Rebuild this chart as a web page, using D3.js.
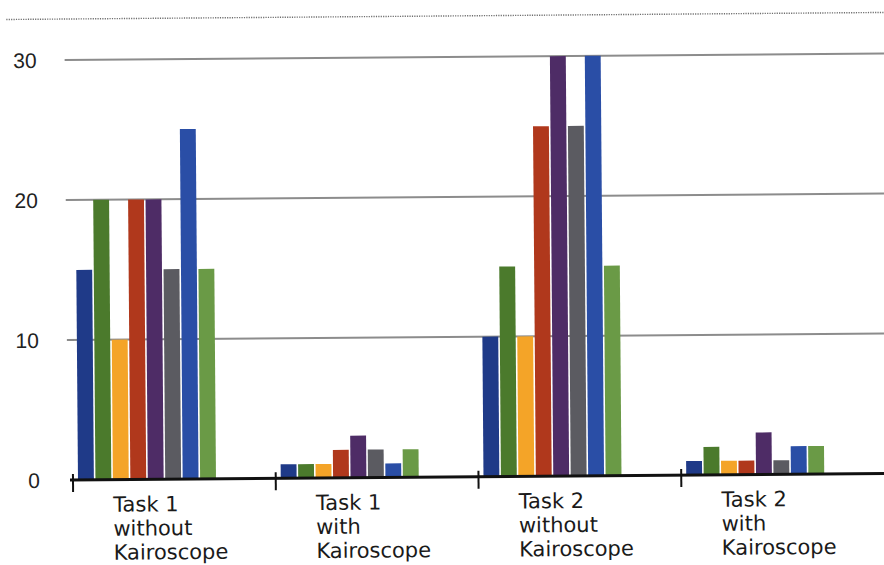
<!DOCTYPE html>
<html>
<head>
<meta charset="utf-8">
<script src="https://cdn.jsdelivr.net/npm/d3@7"></script>
<style>
  html, body { margin: 0; padding: 0; background: #fff; }
  svg { display: block; }
</style>
</head>
<body>
<svg id="chart" width="884" height="565"></svg>
<script>
// Task groups along the x axis (each label is split over three lines)
const categories = [
  ["Task 1", "without", "Kairoscope"],
  ["Task 1", "with", "Kairoscope"],
  ["Task 2", "without", "Kairoscope"],
  ["Task 2", "with", "Kairoscope"]
];
const seriesNames = ["S1", "S2", "S3", "S4", "S5", "S6", "S7", "S8"];
const seriesColors = ["#1f3a88", "#4b7a2c", "#f4a428", "#b0381c", "#4e2c66", "#5b5b61", "#2a4ea6", "#6a9a46"];

// One value per series, per task group
const task1Without = [15, 20, 10, 20, 20, 15, 25, 15];
const task1With    = [1, 1, 1, 2, 3, 2, 1, 2];
const task2Without = [10, 15, 10, 25, 30, 25, 30, 15];
const task2With    = [1, 2, 1, 1, 3, 1, 2, 2];
const groupValues = [task1Without, task1With, task2Without, task2With];

const yTicks = [0, 10, 20, 30];

const svg = d3.select("#chart");
// the whole page sits on a very slight tilt
const g = svg.append("g").attr("transform", "rotate(-0.46, 70, 480)");

const y = d3.scaleLinear().domain([0, 30]).range([480, 60]);
const x0 = d3.scaleBand().domain(d3.range(categories.length)).range([73, 884]).paddingInner(0).paddingOuter(0);
const x1 = d3.scaleBand().domain(seriesNames).range([5, 143]).paddingInner(0.09);

// dotted rule across the top
g.append("line")
  .attr("x1", 10).attr("x2", 900).attr("y1", 19).attr("y2", 19)
  .attr("stroke", "#6e6e6e").attr("stroke-width", 1.4)
  .attr("stroke-dasharray", "1.2,1.2");

// horizontal gridlines
g.append("g").selectAll("line")
  .data(yTicks.filter(d => d > 0))
  .join("line")
  .attr("x1", 68).attr("x2", 900)
  .attr("y1", d => y(d)).attr("y2", d => y(d))
  .attr("stroke", "#8c8c8c").attr("stroke-width", 2);

// y tick labels
g.append("g").selectAll("text")
  .data(yTicks)
  .join("text")
  .attr("x", 40).attr("y", d => y(d))
  .attr("dy", "0.36em")
  .attr("text-anchor", "end")
  .attr("font-family", "Liberation Sans, Arial, sans-serif")
  .attr("font-size", 21)
  .attr("fill", "#222")
  .text(d => d);

// bars
const groups = g.append("g").selectAll("g")
  .data(groupValues)
  .join("g")
  .attr("transform", (d, i) => `translate(${x0(i)},0)`);

groups.selectAll("rect")
  .data(d => d.map((v, j) => ({ key: seriesNames[j], value: v, color: seriesColors[j] })))
  .join("rect")
  .attr("x", d => x1(d.key))
  .attr("width", x1.bandwidth())
  .attr("y", d => y(d.value))
  .attr("height", d => y(0) - y(d.value))
  .attr("fill", d => d.color);

// x axis baseline and group separator ticks
g.append("line")
  .attr("x1", 70).attr("x2", 900)
  .attr("y1", y(0)).attr("y2", y(0))
  .attr("stroke", "#111").attr("stroke-width", 3);

g.append("g").selectAll("line")
  .data(d3.range(categories.length))
  .join("line")
  .attr("x1", i => x0(i)).attr("x2", i => x0(i))
  .attr("y1", y(0) - 6).attr("y2", y(0) + 12)
  .attr("stroke", "#111").attr("stroke-width", 2);

// small tick at 10 on the value axis
g.append("line")
  .attr("x1", 70).attr("x2", 75)
  .attr("y1", y(10)).attr("y2", y(10))
  .attr("stroke", "#888").attr("stroke-width", 1.5);

// category labels
const labels = g.append("g").selectAll("text")
  .data(categories)
  .join("text")
  .attr("font-family", "DejaVu Sans, sans-serif")
  .attr("font-size", 21)
  .attr("fill", "#1a1a1a");

labels.selectAll("tspan")
  .data((d, i) => d.map((line, k) => ({ line, k, i })))
  .join("tspan")
  .attr("x", d => x0(d.i) + 40)
  .attr("y", d => 512 + d.k * 24)
  .text(d => d.line);
</script>
</body>
</html>
